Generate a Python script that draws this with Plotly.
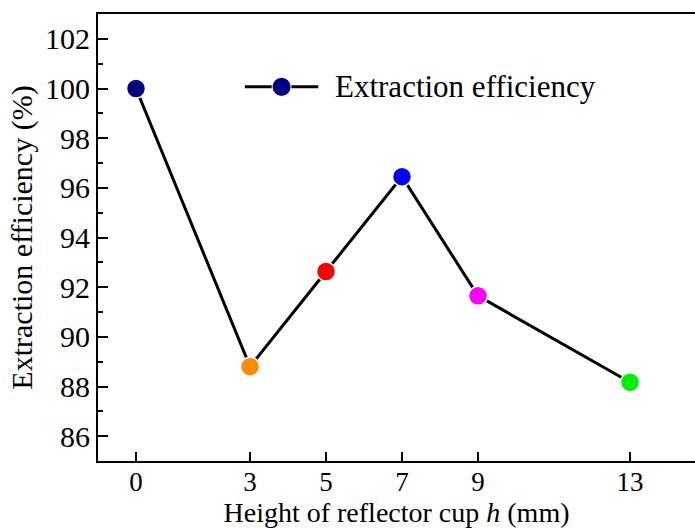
import plotly.graph_objects as go

heights = [0, 3, 5, 7, 9, 13]
efficiency = [100.0, 88.8, 92.63, 96.45, 91.65, 88.17]
point_colors = ["#000080", "#FF8C00", "#FF0000", "#0000FF", "#FF00FF", "#00EE00"]
x_ticks = [0, 3, 5, 7, 9, 13]
y_ticks = [86, 88, 90, 92, 94, 96, 98, 100, 102]
series_name = "Extraction efficiency"

FONT = "Liberation Serif, Times New Roman, serif"

fig = go.Figure()
fig.add_trace(go.Scatter(
    x=heights, y=efficiency, mode="lines+markers", name=series_name,
    line=dict(color="black", width=3),
    marker=dict(size=19, color=point_colors, line=dict(color="white", width=1.5)),
    showlegend=False,
))

# legend drawn in paper coordinates (long sample line as in the original)
ly = 0.837
fig.add_shape(type="line", xref="paper", yref="paper", x0=0.246, x1=0.369, y0=ly, y1=ly,
              line=dict(color="black", width=3))
fig.add_shape(type="circle", xref="paper", yref="paper", xsizemode="pixel", ysizemode="pixel",
              xanchor=0.3075, yanchor=ly, x0=-9.5, x1=9.5, y0=-9.5, y1=9.5,
              fillcolor=point_colors[0], line=dict(color="white", width=1))
fig.add_annotation(x=0.394, y=ly, xref="paper", yref="paper", xanchor="left", yanchor="middle",
                   text=series_name, showarrow=False, font=dict(size=31, family=FONT, color="black"))

fig.update_layout(
    width=695, height=529,
    margin=dict(l=98, r=0, t=14, b=68),
    paper_bgcolor="white", plot_bgcolor="white",
    font=dict(family=FONT, size=30, color="black"),
    showlegend=False,
    xaxis=dict(
        range=[-1, 14.71], tickvals=x_ticks, ticktext=[str(v) for v in x_ticks],
        ticks="inside", ticklen=9, tickwidth=1.5, tickcolor="black",
        showline=True, linecolor="black", linewidth=2, mirror=True,
        showgrid=False, zeroline=False,
        tickfont=dict(size=27), ticklabelstandoff=-4,
        title=dict(text="Height of reflector cup <i>h</i> (mm)", font=dict(size=28), standoff=3),
    ),
    yaxis=dict(
        range=[85, 103], tickvals=y_ticks,
        ticks="inside", ticklen=10, tickwidth=1.5, tickcolor="black",
        minor=dict(dtick=1, tick0=85, ticks="inside", ticklen=5, tickwidth=1.5, tickcolor="black", showgrid=False),
        showline=True, linecolor="black", linewidth=2, mirror=False,
        showgrid=False, zeroline=False,
        tickfont=dict(size=30),
        title=dict(text="Extraction efficiency (%)", font=dict(size=30), standoff=4),
    ),
)

fig.write_html("out.html")
